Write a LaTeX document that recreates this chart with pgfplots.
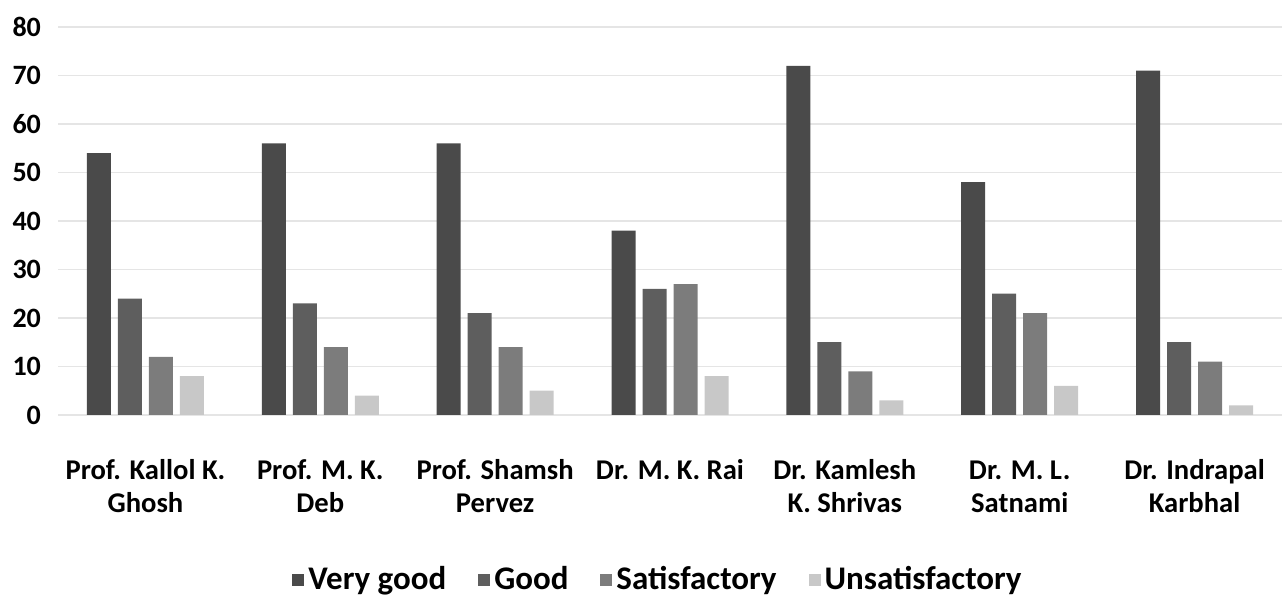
\documentclass[border=0pt]{standalone}
\usepackage{pgfplots}
\pgfplotsset{compat=1.18}
\usepackage{fontspec}
\setmainfont{Carlito}
\definecolor{cVG}{HTML}{4A4A4A}
\definecolor{cG}{HTML}{5E5E5E}
\definecolor{cS}{HTML}{7C7C7C}
\definecolor{cU}{HTML}{C8C8C8}
\begin{document}
\begin{tikzpicture}
\useasboundingbox (0,0) rectangle (641pt,298.5pt);
\begin{axis}[
  at={(29pt,91pt)}, anchor=south west,
  scale only axis, width=612pt, height=194pt,
  ybar=3.5pt, bar width=12pt,
  xmin=-0.5, xmax=6.5, ymin=0, ymax=80,
  ytick={0,10,...,80},
  xtick=data,
  xticklabels={{\strut Prof. Kallol K.\\Ghosh},{\strut Prof. M. K.\\Deb},{\strut Prof. Shamsh\\Pervez},{\strut Dr. M. K. Rai},{\strut Dr. Kamlesh\\K. Shrivas},{\strut Dr. M. L.\\Satnami},{\strut Dr. Indrapal\\Karbhal}},
  axis line style={draw=none},
  major tick length=0pt,
  ymajorgrids, grid style={black!10, line width=0.6pt},
  /pgf/number format/assume math mode=true,
  yticklabel style={font=\bfseries\fontsize{14}{16}\selectfont, xshift=-5pt},
  xticklabel style={align=center, anchor=north, font=\bfseries\fontsize{14.3}{16.5}\selectfont, yshift=-17pt},
  legend style={at={(0.491,-0.425)}, anchor=center, draw=none, legend columns=4,
    font=\bfseries\fontsize{16.5}{18}\selectfont,
    /tikz/every even column/.append style={column sep=14pt}},
  legend image code/.code={\fill[#1] (0pt,-3pt) rectangle (6pt,3pt);},
]
\addplot[fill=cVG, draw=none] coordinates {(0,54) (1,56) (2,56) (3,38) (4,72) (5,48) (6,71)};
\addplot[fill=cG, draw=none] coordinates {(0,24) (1,23) (2,21) (3,26) (4,15) (5,25) (6,15)};
\addplot[fill=cS, draw=none] coordinates {(0,12) (1,14) (2,14) (3,27) (4,9) (5,21) (6,11)};
\addplot[fill=cU, draw=none] coordinates {(0,8) (1,4) (2,5) (3,8) (4,3) (5,6) (6,2)};
\legend{Very good, Good, Satisfactory, Unsatisfactory}
\end{axis}
\end{tikzpicture}
\end{document}
